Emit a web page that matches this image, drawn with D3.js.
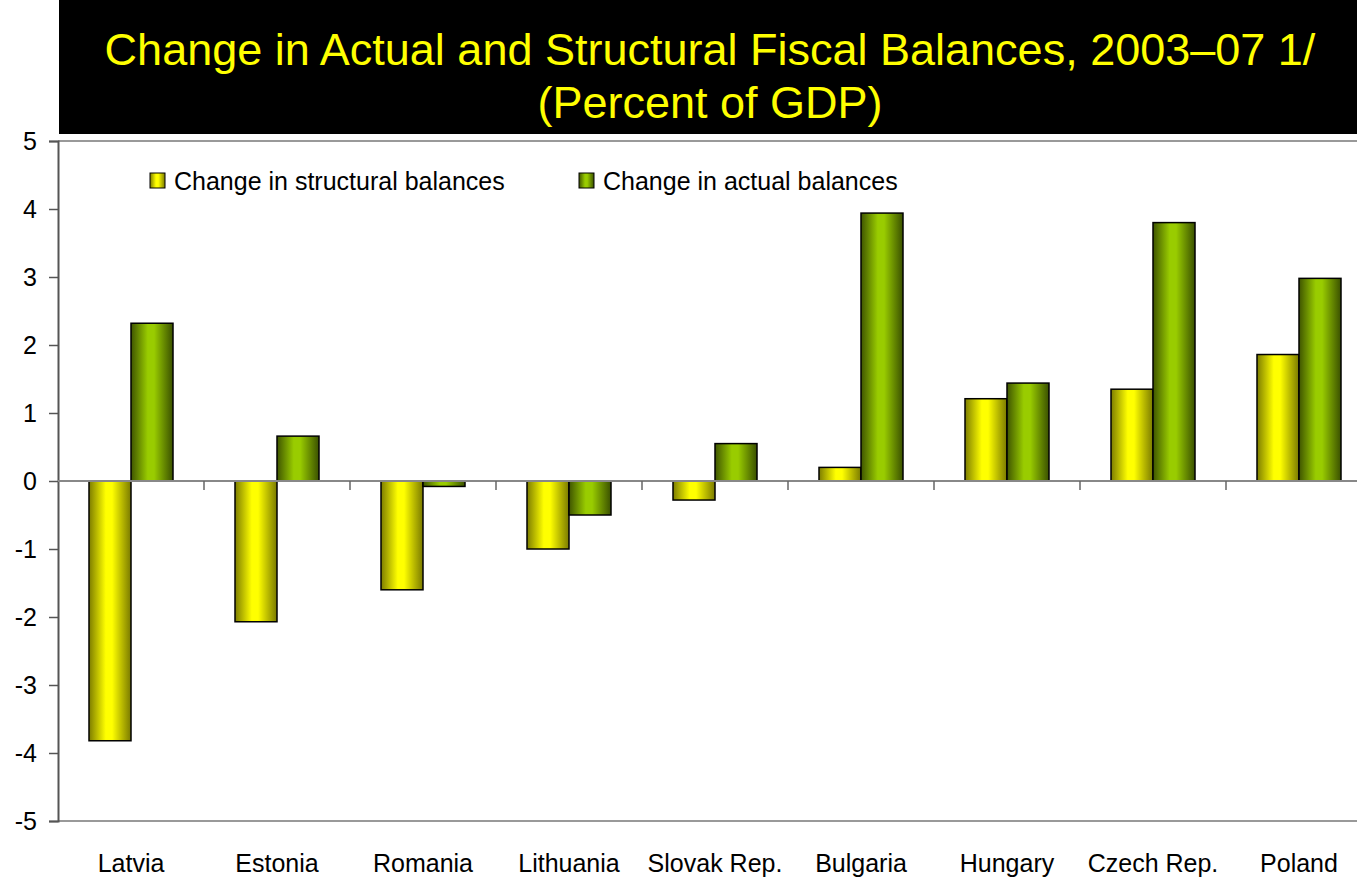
<!DOCTYPE html>
<html>
<head>
<meta charset="utf-8">
<script src="https://cdn.jsdelivr.net/npm/d3@7"></script>
<style>
  html, body { margin: 0; padding: 0; background: #fff; }
  svg { display: block; font-family: "Liberation Sans", Arial, sans-serif; }
</style>
</head>
<body>
<svg id="chart" width="1357" height="877"></svg>
<script>
// Countries along the x axis
const countries = ["Latvia", "Estonia", "Romania", "Lithuania", "Slovak Rep.", "Bulgaria", "Hungary", "Czech Rep.", "Poland"];
// Change in structural balances, percent of GDP
const structural = [-3.82, -2.07, -1.60, -1.00, -0.28, 0.20, 1.21, 1.35, 1.86];
// Change in actual balances, percent of GDP
const actual = [2.32, 0.66, -0.08, -0.50, 0.55, 3.94, 1.44, 3.80, 2.98];
// Value axis ticks
const yTicks = [-5, -4, -3, -2, -1, 0, 1, 2, 3, 4, 5];
const seriesNames = ["Change in structural balances", "Change in actual balances"];
const titleLines = ["Change in Actual and Structural Fiscal Balances, 2003\u201307 1/", "(Percent of GDP)"];

const svg = d3.select("#chart");

// Gradient fills giving the bars a rounded look
const defs = svg.append("defs");
function grad(id, edgeL, mid, edgeR) {
  const g = defs.append("linearGradient").attr("id", id)
    .attr("x1", "0%").attr("x2", "100%").attr("y1", "0%").attr("y2", "0%");
  g.append("stop").attr("offset", "0%").attr("stop-color", edgeL);
  g.append("stop").attr("offset", "40%").attr("stop-color", mid);
  g.append("stop").attr("offset", "55%").attr("stop-color", mid);
  g.append("stop").attr("offset", "100%").attr("stop-color", edgeR);
}
grad("gYellow", "#7d7d00", "#ffff00", "#7a7a00");
grad("gGreen", "#3f5500", "#99cc00", "#3a5000");
const fills = ["url(#gYellow)", "url(#gGreen)"];

// Title banner
svg.append("rect").attr("x", 59).attr("y", 0).attr("width", 1298).attr("height", 134).attr("fill", "#000");
svg.append("g").selectAll("text").data(titleLines).join("text")
  .attr("x", 710).attr("y", (d, i) => 65 + i * 53)
  .attr("text-anchor", "middle").attr("fill", "#ffff00")
  .attr("font-size", 45).text(d => d);

// Scales
const x = d3.scaleBand().domain(countries).range([58, 1372]).paddingInner(0).paddingOuter(0);
const y = d3.scaleLinear().domain([-5, 5]).range([821, 141]);
const barW = 42;

// Plot frame lines (top and bottom)
svg.append("line").attr("x1", 58).attr("x2", 1357).attr("y1", y(5)).attr("y2", y(5)).attr("stroke", "#999").attr("stroke-width", 2);
svg.append("line").attr("x1", 58).attr("x2", 1357).attr("y1", y(-5)).attr("y2", y(-5)).attr("stroke", "#999").attr("stroke-width", 2);

// Y axis
const yAxis = svg.append("g").attr("transform", "translate(58,0)")
  .call(d3.axisLeft(y).tickValues(yTicks).tickSize(9).tickPadding(12).tickFormat(d => String(d)));
yAxis.select(".domain").attr("stroke", "#555").attr("stroke-width", 2);
yAxis.selectAll(".tick line").attr("stroke", "#555").attr("stroke-width", 1.5);
yAxis.selectAll(".tick text").attr("font-size", 25).attr("fill", "#000")
  .attr("font-family", "'Liberation Sans', Arial, sans-serif");

// Bars
const groups = svg.append("g").selectAll("g").data(countries).join("g");
[structural, actual].forEach((vals, s) => {
  groups.append("rect")
    .attr("x", (d, i) => x(d) + x.bandwidth() / 2 - barW + s * barW)
    .attr("y", (d, i) => y(Math.max(0, vals[i])))
    .attr("width", barW)
    .attr("height", (d, i) => Math.abs(y(vals[i]) - y(0)))
    .attr("fill", fills[s])
    .attr("stroke", "#000").attr("stroke-width", 1.5);
});

// Zero line with category separators
const xAxis = svg.append("g").attr("transform", `translate(0,${y(0)})`);
xAxis.append("line").attr("x1", 58).attr("x2", 1357).attr("stroke", "#888").attr("stroke-width", 2);
xAxis.selectAll("line.sep").data(countries.slice(1)).join("line").attr("class", "sep")
  .attr("x1", d => x(d)).attr("x2", d => x(d)).attr("y1", 0).attr("y2", 9)
  .attr("stroke", "#666").attr("stroke-width", 1.5);

// Category labels
svg.append("g").selectAll("text").data(countries).join("text")
  .attr("x", d => x(d) + x.bandwidth() / 2)
  .attr("y", 872).attr("text-anchor", "middle").attr("font-size", 25).attr("fill", "#000")
  .text(d => d);

// Legend
const legendX = [150, 579];
const leg = svg.append("g").selectAll("g").data(seriesNames).join("g")
  .attr("transform", (d, i) => `translate(${legendX[i]},173)`);
leg.append("rect").attr("width", 15).attr("height", 15)
  .attr("fill", (d, i) => fills[i]).attr("stroke", "#000").attr("stroke-width", 1);
leg.append("text").attr("x", 24).attr("y", 17).attr("font-size", 25).attr("fill", "#000").text(d => d);
</script>
</body>
</html>
